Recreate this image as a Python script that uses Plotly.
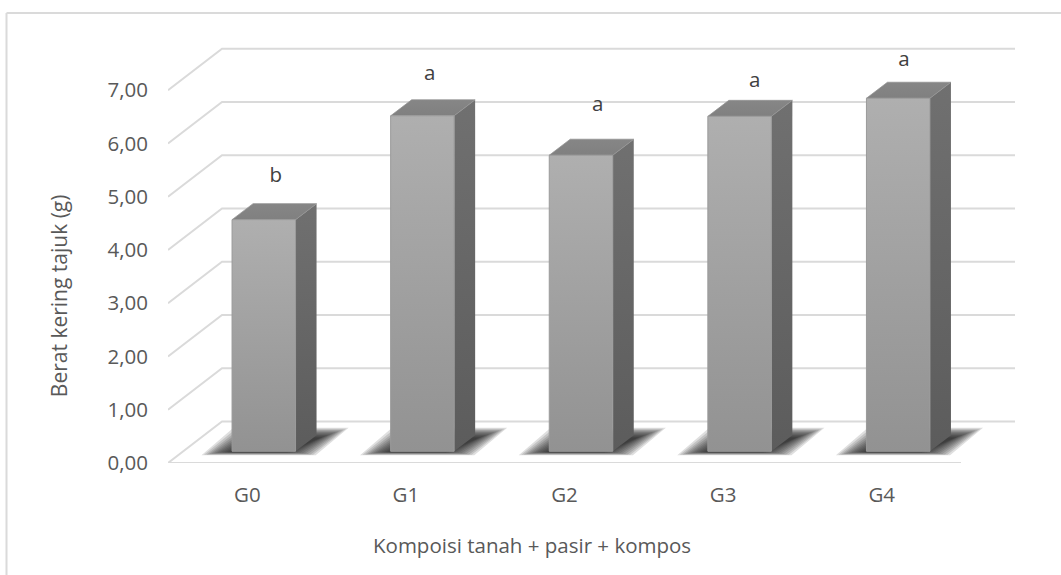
import plotly.graph_objects as go

categories = ["G0", "G1", "G2", "G3", "G4"]
values = [4.35, 6.30, 5.56, 6.29, 6.63]
letters = ["b", "a", "a", "a", "a"]
letter_x = [0.18, 1.15, 2.21, 3.20, 4.14]
letter_y = [5.38, 7.28, 6.70, 7.16, 7.55]
y_ticks = [0, 1, 2, 3, 4, 5, 6, 7]
y_labels = ["0,00", "1,00", "2,00", "3,00", "4,00", "5,00", "6,00", "7,00"]

W, H = 1061, 575
LEFT, RIGHT, FLOOR_Y, UNIT_Y, UNIT_X = 168, 1015, 462.7, 53.2, 158.6
YMAX = 8
xmin, xmax = -0.5, -0.5 + (RIGHT - LEFT) / UNIT_X


def dx(px):
    return px / UNIT_X


def dy(px):
    return px / UNIT_Y


GRID = "#DADADA"
TEXT = "#595959"
FONT = "Open Sans"
FS = 20.5
fig = go.Figure()

gx, gy = [], []
for t in y_ticks:
    gx += [xmin, xmin + dx(54), xmax, None]
    gy += [t, t + dy(41.5), t + dy(41.5), None]
gx += [xmin, 4.5, None]
gy += [0, 0, None]
fig.add_trace(go.Scatter(x=gx, y=gy, mode="lines", line=dict(color=GRID, width=2),
                         hoverinfo="skip", showlegend=False, cliponaxis=False))

# soft shadow on the floor: nested parallelograms
BASE = dy(11.7)
BW = dx(63.5)
OFF = dx(16.5)
DX, DY = dx(21), dy(16)
for grow in [12, 10, 8, 6, 4, 2, 0, -2, -4, -6, -8, -10]:
    sx, sy = [], []
    for i in range(len(categories)):
        x0 = i + OFF - BW / 2
        g = grow * 1.3
        b = -1.5 - max(grow, -2) * .2
        t = 18 + grow * .45
        sx += [x0 + dx(-15 - g), x0 + dx(68 + g), x0 + dx(101 + g), x0 + dx(17 - g), x0 + dx(-15 - g), None]
        sy += [BASE + dy(b), BASE + dy(b), BASE + dy(t), BASE + dy(t), BASE + dy(b), None]
    fig.add_trace(go.Scatter(x=sx, y=sy, mode="lines", fill="toself", line=dict(width=0),
                             fillcolor="rgba(30,30,30,0.14)", hoverinfo="skip", showlegend=False))

for i, (c, v) in enumerate(zip(categories, values)):
    x0 = i + OFF - BW / 2
    x1 = x0 + BW
    top = BASE + v
    fig.add_trace(go.Scatter(
        x=[x1, x1 + DX, x1 + DX, x1, x1], y=[BASE, BASE + DY, top + DY, top, BASE],
        mode="lines", fill="toself", line=dict(width=0), hoverinfo="skip", showlegend=False,
        fillgradient=dict(type="vertical", colorscale=[[0, "#5C5C5C"], [1, "#707070"]])))
    fig.add_trace(go.Scatter(
        x=[x0, x1, x1 + DX, x0 + DX, x0], y=[top, top, top + DY, top + DY, top],
        mode="lines", fill="toself", line=dict(width=0.75, color="#929292"), hoverinfo="skip", showlegend=False,
        fillgradient=dict(type="vertical", colorscale=[[0, "#808080"], [1, "#868686"]])))
    fig.add_trace(go.Scatter(
        x=[x0, x1, x1, x0, x0], y=[BASE, BASE, top, top, BASE],
        mode="lines", fill="toself", line=dict(width=1, color="#9A9A9A"), showlegend=False,
        name=c, text=[f"{c}: {v}"] * 5, hoverinfo="text",
        fillgradient=dict(type="vertical", colorscale=[[0, "#929292"], [1, "#AFAFAF"]])))

fig.add_trace(go.Scatter(x=letter_x, y=letter_y, mode="text", text=letters,
                         textfont=dict(family=FONT, size=FS, color="#404040"),
                         hoverinfo="skip", showlegend=False, cliponaxis=False))

fig.update_layout(
    width=W, height=H, autosize=False,
    margin=dict(l=LEFT, r=W - RIGHT, t=FLOOR_Y - YMAX * UNIT_Y, b=H - FLOOR_Y, pad=0),
    paper_bgcolor="white", plot_bgcolor="white", showlegend=False,
    font=dict(family=FONT, size=FS, color=TEXT),
    xaxis=dict(range=[xmin, xmax], tickmode="array", tickvals=list(range(5)), ticktext=categories,
               showgrid=False, zeroline=False, showline=False, ticks="", ticklabelstandoff=17,
               tickfont=dict(family=FONT, size=FS, color=TEXT)),
    yaxis=dict(range=[0, YMAX], tickmode="array", tickvals=y_ticks, ticktext=y_labels,
               showgrid=False, zeroline=False, showline=False, ticks="", ticklabelstandoff=19,
               tickfont=dict(family=FONT, size=FS, color=TEXT)),
    shapes=[
        dict(type="line", xref="paper", yref="paper", x0=(6.5 - LEFT) / (RIGHT - LEFT), x1=(6.5 - LEFT) / (RIGHT - LEFT),
             y0=-(H - FLOOR_Y) / (YMAX * UNIT_Y), y1=(FLOOR_Y - 13) / (YMAX * UNIT_Y),
             line=dict(color=GRID, width=2)),
        dict(type="line", xref="paper", yref="paper", x0=(6.5 - LEFT) / (RIGHT - LEFT), x1=(W - LEFT) / (RIGHT - LEFT),
             y0=(FLOOR_Y - 13) / (YMAX * UNIT_Y), y1=(FLOOR_Y - 13) / (YMAX * UNIT_Y),
             line=dict(color=GRID, width=2)),
    ],
    annotations=[
        dict(text="Kompoisi tanah + pasir + kompos", xref="paper", yref="paper",
             x=(532 - LEFT) / (RIGHT - LEFT), y=-(545 - FLOOR_Y) / (YMAX * UNIT_Y),
             xanchor="center", yanchor="middle",
             showarrow=False, font=dict(family=FONT, size=FS, color=TEXT)),
        dict(text="Berat kering tajuk (g)", xref="paper", yref="paper", textangle=-90,
             x=(59 - LEFT) / (RIGHT - LEFT), y=(FLOOR_Y - 296) / (YMAX * UNIT_Y),
             xanchor="center", yanchor="middle",
             showarrow=False, font=dict(family=FONT, size=21, color=TEXT)),
    ],
)
fig.write_html("out.html", config=dict(displayModeBar=False),
               post_script="document.body.style.margin='0';document.documentElement.style.overflow='hidden';")
